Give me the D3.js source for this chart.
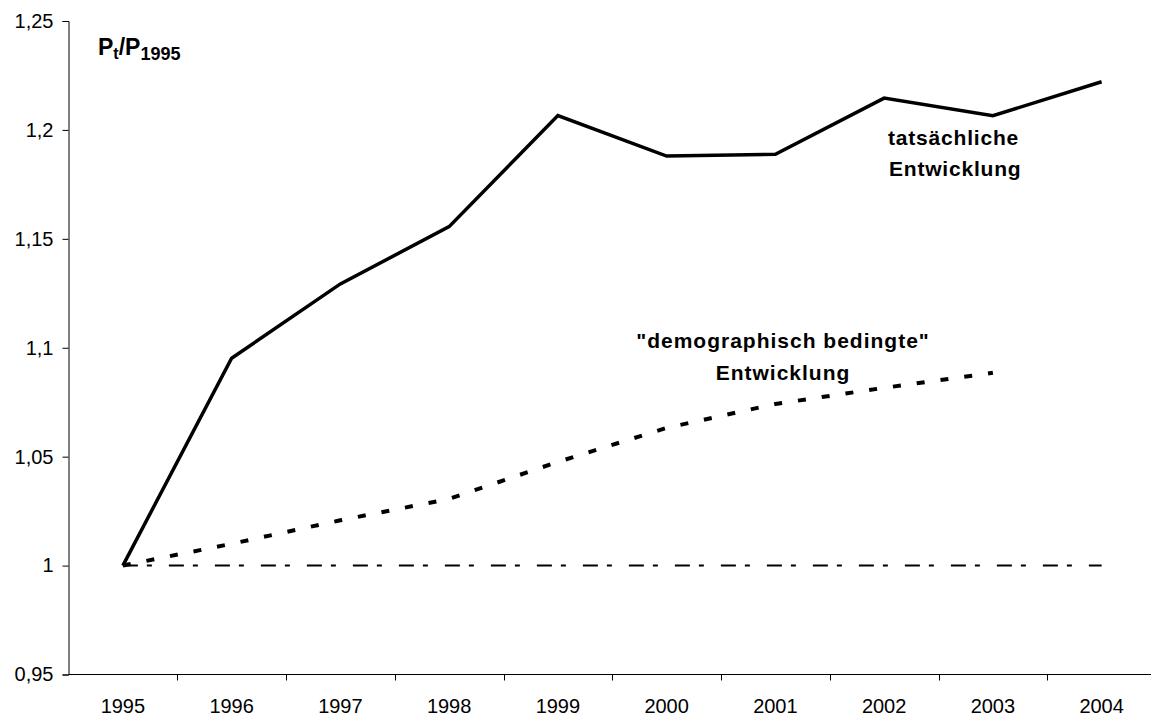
<!DOCTYPE html>
<html>
<head>
<meta charset="utf-8">
<script src="https://cdn.jsdelivr.net/npm/d3@7"></script>
<style>
  body { margin: 0; background: #fff; }
  svg { display: block; font-family: "Liberation Sans", Arial, sans-serif; }
</style>
</head>
<body>
<svg id="chart" width="1151" height="717"></svg>
<script>
const years = ["1995", "1996", "1997", "1998", "1999", "2000", "2001", "2002", "2003", "2004"];
const actual = [1.0, 1.0952, 1.1293, 1.1556, 1.2066, 1.188, 1.1888, 1.2146, 1.2065, 1.2221];
const demographic = [1.0, 1.010, 1.0208, 1.0306, 1.0476, 1.0632, 1.0742, 1.0816, 1.0885];
const baseline = [1, 1, 1, 1, 1, 1, 1, 1, 1, 1];
const yTicks = [0.95, 1, 1.05, 1.1, 1.15, 1.2, 1.25];

const svg = d3.select('#chart');

const x = d3.scalePoint().domain(years).range([68.5, 1156]).padding(0.5);
const y = d3.scaleLinear().domain([0.95, 1.25]).range([674.5, 21]);
const step = x.step();

const fmt = d => String(d).replace('.', ',');

// y axis
const yAxis = svg.append('g')
  .attr('transform', `translate(${x.range()[0]},0)`)
  .call(d3.axisLeft(y).tickValues(yTicks).tickFormat(fmt).tickSize(6).tickPadding(9));
yAxis.select('.domain').attr('stroke', '#000');
yAxis.selectAll('.tick line').attr('stroke', '#000');
yAxis.selectAll('.tick text').attr('font-size', 20).attr('fill', '#000');

// x axis (ticks between categories, labels centred)
const xAxis = svg.append('g').attr('transform', `translate(0,${y(0.95)})`);
xAxis.append('line')
  .attr('x1', x.range()[0]).attr('x2', 1151)
  .attr('stroke', '#000');
xAxis.selectAll('line.tk')
  .data(years.slice(1))
  .enter().append('line')
  .attr('class', 'tk')
  .attr('x1', d => Math.round(x(d) - step / 2) + 0.5)
  .attr('x2', d => Math.round(x(d) - step / 2) + 0.5)
  .attr('y1', 0).attr('y2', 6)
  .attr('stroke', '#000');
xAxis.selectAll('text')
  .data(years)
  .enter().append('text')
  .attr('x', d => x(d))
  .attr('y', 38.5)
  .attr('text-anchor', 'middle')
  .attr('font-size', 20)
  .text(d => d);

const line = d3.line().x((d, i) => x(years[i])).y(d => y(d));

svg.append('path')
  .attr('d', line(baseline))
  .attr('fill', 'none').attr('stroke', '#000')
  .attr('stroke-width', 2)
  .attr('stroke-dasharray', '15,9,5,17');

svg.append('path')
  .attr('d', line(demographic))
  .attr('fill', 'none').attr('stroke', '#000')
  .attr('stroke-width', 4)
  .attr('stroke-dasharray', '8,16');

svg.append('path')
  .attr('d', line(actual))
  .attr('fill', 'none').attr('stroke', '#000')
  .attr('stroke-width', 3.5)
  .attr('stroke-linejoin', 'miter');

// y title
const title = svg.append('text')
  .attr('x', 98).attr('y', 55)
  .attr('font-size', 23).attr('font-weight', 'bold');
title.append('tspan').text('P');
title.append('tspan').attr('font-size', 16).attr('dy', 4).text('t');
title.append('tspan').attr('dy', -4).text('/P');
title.append('tspan').attr('font-size', 18).attr('dy', 5).text('1995');

// annotations
const ann1 = svg.append('text')
  .attr('font-size', 21).attr('font-weight', 'bold')
  .attr('letter-spacing', 0.8);
ann1.append('tspan').attr('x', 888).attr('y', 145).text('tatsächliche');
ann1.append('tspan').attr('x', 889).attr('y', 176).text('Entwicklung');

const ann2 = svg.append('text')
  .attr('font-size', 21).attr('font-weight', 'bold')
  .attr('letter-spacing', 1)
  .attr('text-anchor', 'middle');
ann2.append('tspan').attr('x', 783).attr('y', 348).text('"demographisch bedingte"');
ann2.append('tspan').attr('x', 783).attr('y', 380).text('Entwicklung');
</script>
</body>
</html>
